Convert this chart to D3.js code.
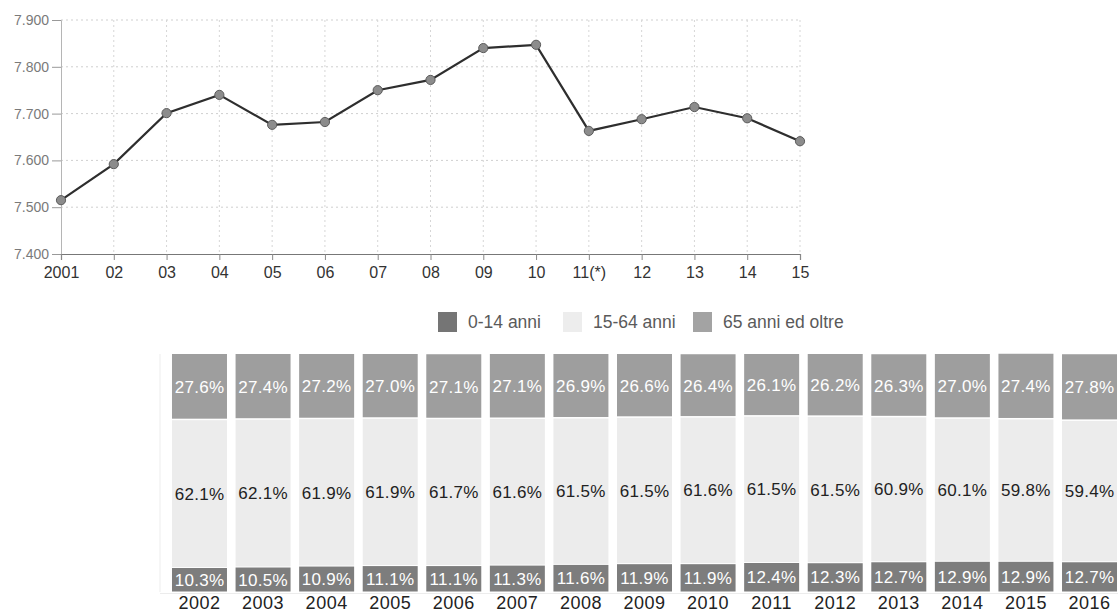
<!DOCTYPE html>
<html><head><meta charset="utf-8">
<script src="https://cdn.jsdelivr.net/npm/d3@7"></script>
<style>
html,body{margin:0;padding:0;background:#fff;}
svg{display:block;font-family:"Liberation Sans",Arial,sans-serif;}
</style></head>
<body>
<svg id="c" width="1118" height="615"></svg>
<script>
// ---- Line chart data ----
const lineYears = ["2001","02","03","04","05","06","07","08","09","10","11(*)","12","13","14","15"];
const lineValues = [7515,7592,7701,7740,7676,7682,7750,7772,7840,7847,7663,7688,7714,7690,7641];
const lineTicks = [7400,7500,7600,7700,7800,7900];

// ---- Stacked bars data ----
const barYears = ["2002","2003","2004","2005","2006","2007","2008","2009","2010","2011","2012","2013","2014","2015","2016"];
const age0_14  = [10.3,10.5,10.9,11.1,11.1,11.3,11.6,11.9,11.9,12.4,12.3,12.7,12.9,12.9,12.7];
const age15_64 = [62.1,62.1,61.9,61.9,61.7,61.6,61.5,61.5,61.6,61.5,61.5,60.9,60.1,59.8,59.4];
const age65    = [27.6,27.4,27.2,27.0,27.1,27.1,26.9,26.6,26.4,26.1,26.2,26.3,27.0,27.4,27.8];
const seriesNames = ["0-14 anni","15-64 anni","65 anni ed oltre"];

const svg = d3.select("#c");

// ===== Line chart =====
const x = d3.scalePoint().domain(lineYears).range([61, 800]);
const y = d3.scaleLinear().domain([7400, 7900]).range([254, 20]);

const g1 = svg.append("g");
g1.selectAll(".hg").data(lineTicks.slice(1)).join("line")
  .attr("x1", 61).attr("x2", 800).attr("y1", d => y(d)).attr("y2", d => y(d))
  .attr("stroke", "#cfcfcf").attr("stroke-dasharray", "2,3");
g1.selectAll(".vg").data(lineYears.slice(1)).join("line")
  .attr("x1", d => x(d)).attr("x2", d => x(d)).attr("y1", y(7900)).attr("y2", y(7400))
  .attr("stroke", "#d6d6d6").attr("stroke-dasharray", "2,3");

const yAxis = d3.axisLeft(y).tickValues(lineTicks).tickSize(9).tickPadding(3)
  .tickFormat(d => d3.format(",")(d).replace(",", "."));
const ya = g1.append("g").attr("transform", "translate(61,0)").call(yAxis);
ya.select(".domain").attr("stroke", "#b5b5b5");
ya.selectAll(".tick line").attr("stroke", "#999");
ya.selectAll("text").attr("fill", "#7a7a7a").style("font-size", "14px").style("font-family", "Liberation Sans, Arial, sans-serif");

const xAxis = d3.axisBottom(x).tickSize(6).tickPadding(7);
const xa = g1.append("g").attr("transform", "translate(0,254)").call(xAxis);
xa.select(".domain").attr("stroke", "#777").attr("stroke-width", 1.2);
xa.selectAll(".tick line").attr("stroke", "#888");
xa.selectAll("text").attr("fill", "#333").style("font-size", "16px").style("font-family", "Liberation Sans, Arial, sans-serif");

const line = d3.line().x((d, i) => x(lineYears[i])).y(d => y(d));
g1.append("path").datum(lineValues).attr("d", line)
  .attr("fill", "none").attr("stroke", "#2e2e2e").attr("stroke-width", 2.2);
g1.selectAll(".pt").data(lineValues).join("circle")
  .attr("cx", (d, i) => x(lineYears[i])).attr("cy", d => y(d)).attr("r", 4.6)
  .attr("fill", "#8c8c8c").attr("stroke", "#5c5c5c").attr("stroke-width", 1);

// ===== Legend =====
const legendColors = ["#757575", "#ededed", "#a3a3a3"];
const legendX = [438, 563, 693];
const lg = svg.append("g");
seriesNames.forEach((n, i) => {
  lg.append("rect").attr("x", legendX[i]).attr("y", 312).attr("width", 19).attr("height", 20)
    .attr("fill", legendColors[i]);
  lg.append("text").attr("x", legendX[i] + 30).attr("y", 328).text(n)
    .attr("fill", "#5a5a5a").style("font-size", "17.5px");
});

// ===== Stacked bars =====
const xb = d3.scaleBand().domain(barYears).range([167.7, 1121.3]).paddingInner(0.135).paddingOuter(0.0675);
const yb = d3.scaleLinear().domain([0, 100]).range([592, 354]);

const rows = barYears.map((yr, i) => ({year: yr, a: age0_14[i], b: age15_64[i], c: age65[i]}));
const stacked = d3.stack().keys(["a", "b", "c"])(rows);
const segColors = ["#7d7d7d", "#ececec", "#9e9e9e"];
const textColors = ["#fff", "#222", "#fff"];

svg.append("line").attr("x1", 160).attr("x2", 160).attr("y1", yb(100)).attr("y2", yb(0))
  .attr("stroke", "#ededed");
svg.append("line").attr("x1", 160).attr("x2", 1118).attr("y1", yb(0) + 1.5).attr("y2", yb(0) + 1.5)
  .attr("stroke", "#ececec");

const gb = svg.append("g");
stacked.forEach((s, k) => {
  gb.selectAll(".s" + k).data(s).join("rect")
    .attr("x", d => xb(d.data.year)).attr("width", xb.bandwidth())
    .attr("y", d => yb(d[1]) + (k < 2 ? 0.5 : 0))
    .attr("height", d => yb(d[0]) - yb(d[1]) - 1)
    .attr("fill", segColors[k]);
  gb.selectAll(".t" + k).data(s).join("text")
    .attr("x", d => xb(d.data.year) + xb.bandwidth() / 2)
    .attr("y", d => (yb(d[0]) + yb(d[1])) / 2)
    .attr("dy", "0.36em").attr("text-anchor", "middle")
    .attr("fill", textColors[k]).style("font-size", "17px").style("letter-spacing", "0.3px")
    .text(d => (d[1] - d[0]).toFixed(1) + "%");
});

// year axis for bars
const xbAxis = d3.axisBottom(xb).tickSize(0).tickPadding(0);
const xba = svg.append("g").attr("transform", "translate(0,597)").call(xbAxis);
xba.select(".domain").remove();
xba.selectAll("text").attr("fill", "#222").attr("dy", "0.68em")
  .style("font-size", "18px").style("letter-spacing", "0.5px").style("font-family", "Liberation Sans, Arial, sans-serif");
</script>
</body></html>
